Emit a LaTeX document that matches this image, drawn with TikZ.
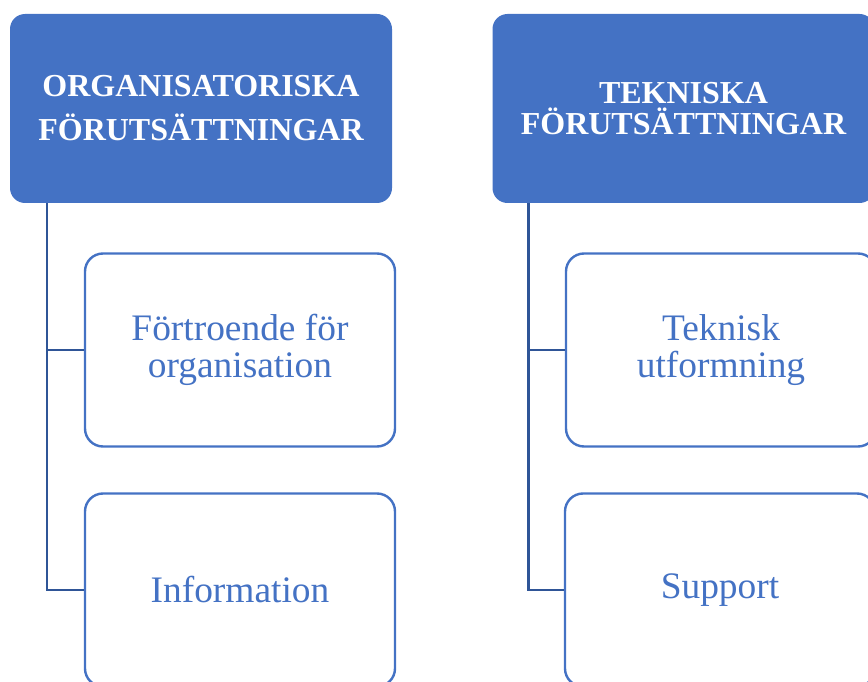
\documentclass[tikz,border=0pt]{standalone}
\usepackage{fontspec}
\setmainfont{Liberation Serif}
\definecolor{boxblue}{HTML}{4472C4}
\definecolor{connblue}{HTML}{2F5597}
\tikzset{
  header/.style={fill=boxblue, draw=none, rounded corners=15pt, minimum width=382pt, minimum height=189pt, inner sep=0pt, text=white, align=center, font=\fontsize{32}{44}\selectfont\bfseries},
  headertwo/.style={header, font=\fontsize{32}{31}\selectfont\bfseries},
  child/.style={draw=boxblue, line width=2.4pt, fill=white, rounded corners=18pt, minimum width=310pt, minimum height=193pt, inner sep=0pt, text=boxblue, align=center, font=\fontsize{37.4}{37}\selectfont},
  conn/.style={draw=connblue, line width=2.4pt}
}
\begin{document}
\begin{tikzpicture}[x=1pt,y=-1pt]
\useasboundingbox (0,0) rectangle (868,682);
\clip (0,0) rectangle (868,682);
\node[header] (lh) at (201,108.5) {ORGANISATORISKA\\FÖRUTSÄTTNINGAR};
\node[headertwo] (rh) at (683.5,108.5) {TEKNISKA\\FÖRUTSÄTTNINGAR};
\node[child] (lc1) at (240,350) {Förtroende för\\organisation};
\node[child] (lc2) at (240,590) {Information};
\node[child] (rc1) at (721,350) {Teknisk\\utformning};
\node[child] (rc2) at (720,590) {Support};
\draw[conn] ([xshift=37pt]lh.south west) |- (lc2.west);
\draw[conn] ([xshift=37pt]lh.south west) |- (lc1.west);
\draw[conn] ([xshift=36pt]rh.south west) |- (rc2.west);
\draw[conn] ([xshift=36pt]rh.south west) |- (rc1.west);
\end{tikzpicture}
\end{document}
